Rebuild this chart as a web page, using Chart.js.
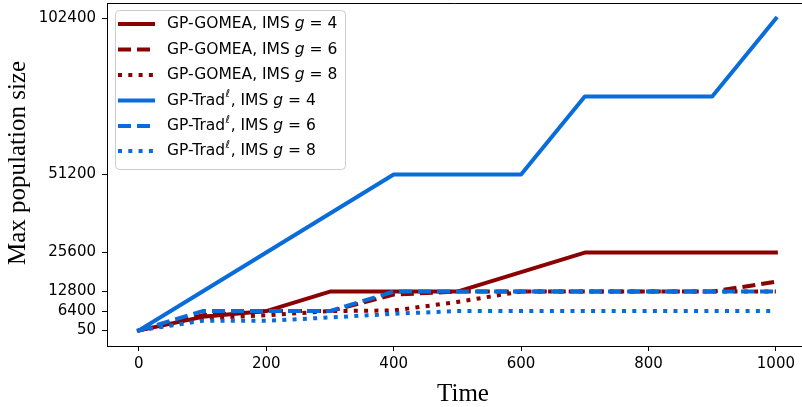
<!DOCTYPE html>
<html>
<head>
<meta charset="utf-8">
<script src="https://cdn.jsdelivr.net/npm/chart.js@4"></script>
<style>
  html, body { margin: 0; padding: 0; background: #fff; overflow: hidden; }
  #chart { display: block; }
</style>
</head>
<body>
<canvas id="chart" width="802" height="407"></canvas>
<script>
// time steps on the x axis
const times = [0, 100, 200, 300, 400, 500, 600, 700, 800, 900, 1000];

// max population size per run
const gomeaG4 = [50, 4500, 6400, 12800, 12800, 12800, 19200, 25600, 25600, 25600, 25600];
const gomeaG6 = [50, 5000, 6400, 6400, 11800, 12800, 12800, 12800, 12800, 12800, 16000];
const gomeaG8 = [50, 4000, 5000, 6400, 6600, 9400, 12800, 12800, 12800, 12800, 12800];
const tradG4 = [50, 12800, 25600, 38400, 51200, 51200, 51200, 76800, 76800, 76800, 102400];
const tradG6 = [50, 6400, 6400, 6400, 12800, 12800, 12800, 12800, 12800, 12800, 12800];
const tradG8 = [50, 3200, 3200, 4300, 5500, 6400, 6400, 6400, 6400, 6400, 6400];

const xTicks = [0, 200, 400, 600, 800, 1000];
const yTicks = [50, 6400, 12800, 25600, 51200, 102400];

const RED = "#8b0000";
const BLUE = "#0a6cdb";

// legend rows: [method, g, color, dash]
const legendRows = [
    ["GP-GOMEA", 4, RED, []],
    ["GP-GOMEA", 6, RED, [13, 6]],
    ["GP-GOMEA", 8, RED, [4, 6.3]],
    ["GP-Trad", 4, BLUE, []],
    ["GP-Trad", 6, BLUE, [13, 6]],
    ["GP-Trad", 8, BLUE, [4, 6.3]],
];

const series = [gomeaG4, gomeaG6, gomeaG8, tradG4, tradG6, tradG8];

function toPoints(vals) {
    return times.map((t, i) => ({ x: t, y: vals[i] }));
}

const datasets = series.map((vals, i) => {
    const [name, g, color, dash] = legendRows[i];
    return {
        label: name + ", IMS g = " + g,
        data: toPoints(vals),
        borderColor: color,
        backgroundColor: color,
        borderWidth: 4,
        borderDash: dash,
        borderCapStyle: dash.length ? "butt" : "square",
        borderJoinStyle: "round",
        pointRadius: 0,
        tension: 0,
        fill: false,
        order: series.length - i, // later series on top, like matplotlib
    };
});

// no extra room for edge labels, the plot box is fixed
function noPad(s) {
    s.paddingTop = 0;
    s.paddingBottom = 0;
    s.paddingLeft = 0;
    s.paddingRight = 0;
}

// top spine, axis titles and the legend (italic g, superscript l)
const decor = {
    id: "decor",
    afterDraw(chart) {
        const ctx = chart.ctx;
        const a = chart.chartArea;
        ctx.save();
        // the right spine is cut off in the original, keep that edge clear
        ctx.fillStyle = "#fff";
        ctx.fillRect(chart.width - 12, a.top + 1, 12, a.bottom - a.top - 1.5);

        ctx.strokeStyle = "#000";
        ctx.lineWidth = 1;
        ctx.beginPath();
        ctx.moveTo(a.left, Math.round(a.top) + 0.5);
        ctx.lineTo(chart.width, Math.round(a.top) + 0.5);
        ctx.stroke();

        ctx.fillStyle = "#000";
        ctx.font = "25px 'Liberation Serif'";
        ctx.textAlign = "center";
        ctx.textBaseline = "alphabetic";
        ctx.fillText("Time", 463, 401);
        ctx.save();
        ctx.translate(25, 163);
        ctx.rotate(-Math.PI / 2);
        ctx.fillText("Max population size", 0, 0);
        ctx.restore();

        // legend box
        const bx = 115.5, by = 10.5, bw = 230, bh = 159, r = 4;
        ctx.beginPath();
        ctx.moveTo(bx + r, by);
        ctx.arcTo(bx + bw, by, bx + bw, by + bh, r);
        ctx.arcTo(bx + bw, by + bh, bx, by + bh, r);
        ctx.arcTo(bx, by + bh, bx, by, r);
        ctx.arcTo(bx, by, bx + bw, by, r);
        ctx.closePath();
        ctx.fillStyle = "rgba(255,255,255,0.8)";
        ctx.fill();
        ctx.strokeStyle = "#cccccc";
        ctx.stroke();

        const rowY = [24, 49.5, 75, 100.5, 126, 151];
        legendRows.forEach(([name, g, color, dash], i) => {
            const y = rowY[i];
            ctx.beginPath();
            ctx.setLineDash(dash);
            ctx.lineCap = "butt";
            ctx.strokeStyle = color;
            ctx.lineWidth = 4;
            ctx.moveTo(118, y);
            ctx.lineTo(155, y);
            ctx.stroke();
            ctx.setLineDash([]);

            ctx.fillStyle = "#000";
            ctx.textAlign = "left";
            ctx.textBaseline = "middle";
            let x = 167;
            const base = "15.5px 'DejaVu Sans'";
            ctx.font = base;
            ctx.fillText(name, x, y);
            x += ctx.measureText(name).width;
            if (name === "GP-Trad") {
                ctx.font = "italic 11px 'DejaVu Sans'";
                ctx.fillText("\u2113", x + 0.5, y - 6);
                x += ctx.measureText("\u2113").width + 1;
                ctx.font = base;
            }
            ctx.fillText(", IMS ", x, y);
            x += ctx.measureText(", IMS ").width;
            ctx.font = "oblique 15.5px 'DejaVu Sans'";
            ctx.fillText("g", x, y);
            x += ctx.measureText("g").width;
            ctx.font = base;
            ctx.fillText(" = " + g, x, y);
        });
        ctx.restore();
    },
};

new Chart(document.getElementById("chart"), {
    type: "line",
    data: { datasets },
    options: {
        responsive: false,
        animation: false,
        layout: { padding: { top: 3, right: 0, left: 0, bottom: 0 } },
        plugins: {
            legend: { display: false },
            tooltip: { enabled: false },
        },
        scales: {
            x: {
                type: "linear",
                min: -50,
                max: 1041,
                afterFit: s => { s.height = 61; noPad(s); },
                afterBuildTicks: s => { s.ticks = xTicks.map(v => ({ value: v })); },
                grid: { drawOnChartArea: false, drawTicks: true, tickLength: 5, color: "#000" },
                border: { display: true, color: "#000", width: 1 },
                ticks: {
                    color: "#000",
                    font: { family: "'DejaVu Sans'", size: 15 },
                    padding: 4,
                    maxRotation: 0,
                    callback: v => String(v),
                },
            },
            y: {
                type: "linear",
                min: -5067.5,
                max: 107517.5,
                afterFit: s => { s.width = 107; noPad(s); },
                afterBuildTicks: s => { s.ticks = yTicks.map(v => ({ value: v })); },
                grid: { drawOnChartArea: false, drawTicks: true, tickLength: 5, color: "#000" },
                border: { display: true, color: "#000", width: 1 },
                ticks: {
                    color: "#000",
                    font: { family: "'DejaVu Sans'", size: 15 },
                    padding: 6,
                    callback: v => String(v),
                },
            },
        },
    },
    plugins: [decor],
});
</script>
</body>
</html>
